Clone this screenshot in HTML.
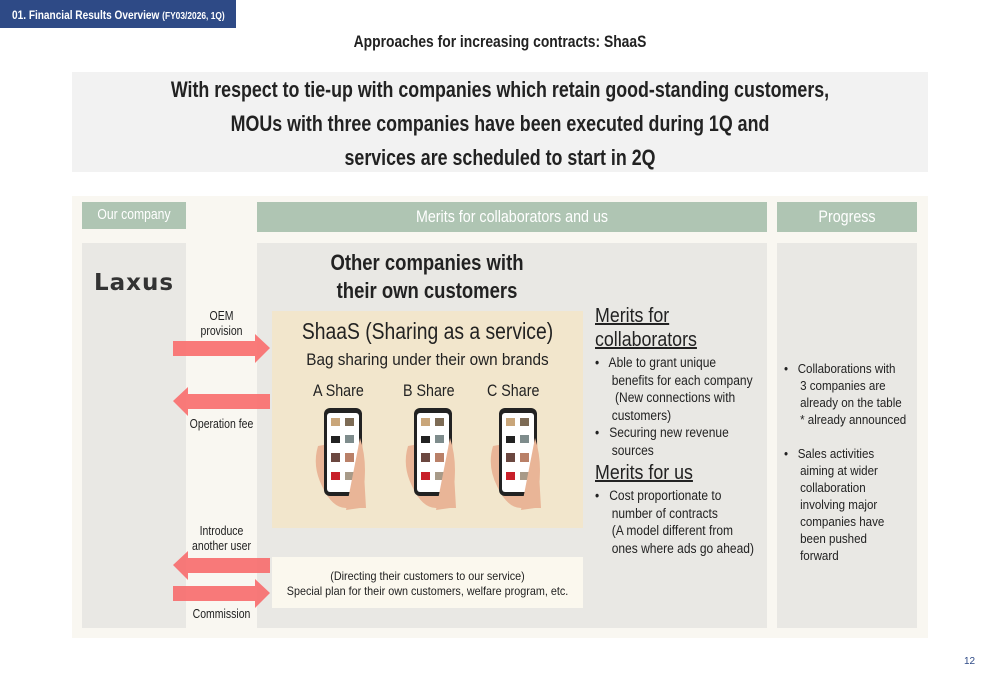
<!DOCTYPE html>
<html><head><meta charset="utf-8"><style>
*{margin:0;padding:0;box-sizing:border-box}
body{width:1000px;height:685px;background:#fff;position:relative;overflow:hidden;font-family:"Liberation Sans",sans-serif;color:#222}
.a{position:absolute;white-space:nowrap}
.c{text-align:center}
.hdr{background:#afc5b3;color:#fff;font-size:17px;text-align:center}
.t{font-size:13.5px;line-height:17.5px}
.nl{transform:scaleX(.84);transform-origin:left top}
.nc{transform:scaleX(.84);transform-origin:center top}
.n9{transform:scaleX(.89);transform-origin:left top}
</style></head><body>
<div class="a" style="left:0;top:0;width:236px;height:28px;background:#2e4a86"></div>
<div class="a nl" style="left:12px;top:0;color:#fff;font-size:12px;font-weight:bold;line-height:30px">01. Financial Results Overview <span style="font-size:10px">(FY03/2026, 1Q)</span></div>
<div class="a c nc" style="left:0;width:1000px;top:33px;font-size:16.5px;font-weight:bold">Approaches for increasing contracts: ShaaS</div>
<div class="a" style="left:72px;top:72px;width:856px;height:100px;background:#f2f2f2"></div>
<div class="a c nc" style="left:72px;top:73px;width:856px;font-size:22px;font-weight:bold;line-height:34px;transform:scaleX(.81)">With respect to tie-up with companies which retain good-standing customers,<br>MOUs with three companies have been executed during 1Q and<br>services are scheduled to start in 2Q</div>

<div class="a" style="left:72px;top:196px;width:856px;height:442px;background:#f9f7f1"></div>
<div class="a hdr" style="left:82px;top:202px;width:104px;height:27px;font-size:14.5px;line-height:27px"><div class="nc">Our company</div></div>
<div class="a hdr" style="left:257px;top:202px;width:510px;height:30px;line-height:30px"><div class="nc">Merits for collaborators and us</div></div>
<div class="a hdr" style="left:777px;top:202px;width:140px;height:30px;line-height:30px"><div class="nc">Progress</div></div>

<div class="a" style="left:82px;top:243px;width:104px;height:385px;background:#e9e8e4"></div>
<div class="a" style="left:257px;top:243px;width:510px;height:385px;background:#e9e8e4"></div>
<div class="a" style="left:777px;top:243px;width:140px;height:385px;background:#e9e8e4"></div>
<div class="a" style="left:94px;top:270px;font-family:'DejaVu Sans',sans-serif;font-size:23px;font-weight:bold;letter-spacing:1px;color:#333">Laxus</div>

<div class="a c nc" style="left:257px;top:249px;width:340px;font-size:22px;font-weight:bold;line-height:28px">Other companies with<br>their own customers</div>

<div class="a" style="left:272px;top:311px;width:311px;height:217px;background:#f2e6cc"></div>
<div class="a c nc" style="left:252px;top:318px;width:351px;font-size:23px">ShaaS (Sharing as a service)</div>
<div class="a c nc" style="left:252px;top:350px;width:351px;font-size:17px;transform:scaleX(.9)">Bag sharing under their own brands</div>
<div class="a nl" style="left:313px;top:381px;font-size:17px">A Share</div>
<div class="a nl" style="left:403px;top:381px;font-size:17px">B Share</div>
<div class="a nl" style="left:487px;top:381px;font-size:17px">C Share</div>

<svg class="a" style="left:0;top:0" width="1000" height="685">
<defs><g id="ph">
<path d="M8 38 q-6 20 4 40 q10 22 24 22 l20 0 l-4-70 z" fill="#e9b597"/>
<rect x="14" y="0" width="38" height="88" rx="6" fill="#222"/>
<rect x="17" y="5" width="32" height="79" rx="3" fill="#fff"/>
<rect x="21" y="10" width="9" height="8" fill="#c9a67a"/><rect x="35" y="10" width="9" height="8" fill="#7d6b55"/>
<rect x="21" y="28" width="9" height="7" fill="#222"/><rect x="35" y="27" width="9" height="8" fill="#7e8c8c"/>
<rect x="21" y="45" width="9" height="9" fill="#6b4740"/><rect x="35" y="45" width="9" height="9" fill="#b98068"/>
<rect x="21" y="64" width="9" height="8" fill="#c8202a"/><rect x="35" y="64" width="9" height="8" fill="#a89a88"/>
<path d="M50 30 q10 30 0 70 l-14 2 z" fill="#e9b597"/>
</g></defs>
<use href="#ph" x="310" y="408"/><use href="#ph" x="400" y="408"/><use href="#ph" x="485" y="408"/>
<g fill="#f86f6f" opacity="0.92">
<polygon points="173,341 255,341 255,334 270,348 255,363 255,356 173,356"/>
<polygon points="270,394 188,394 188,387 173,401 188,416 188,409 270,409"/>
<polygon points="270,558 188,558 188,551 173,565 188,580 188,573 270,573"/>
<polygon points="173,586 255,586 255,579 270,593 255,608 255,601 173,601"/>
</g>
</svg>

<div class="a c nc" style="left:176px;top:309px;width:91px;font-size:12.5px;line-height:15px">OEM<br>provision</div>
<div class="a c nc" style="left:176px;top:417px;width:91px;font-size:12.5px">Operation fee</div>
<div class="a c nc" style="left:176px;top:524px;width:91px;font-size:12.5px;line-height:15px">Introduce<br>another user</div>
<div class="a c nc" style="left:176px;top:607px;width:91px;font-size:12.5px">Commission</div>

<div class="a" style="left:272px;top:557px;width:311px;height:51px;background:#fbf8ee"></div>
<div class="a c nc" style="left:232px;top:569px;width:391px;font-size:12px;line-height:15px;transform:scaleX(.9)">(Directing their customers to our service)<br>Special plan for their own customers, welfare program, etc.</div>

<div class="a n9" style="left:595px;top:304px;font-size:20px;line-height:24px;text-decoration:underline">Merits for<br>collaborators</div>
<div class="a t n9" style="left:595px;top:354px">•&nbsp;&nbsp; Able to grant unique<br>&nbsp;&nbsp;&nbsp;&nbsp; benefits for each company<br>&nbsp;&nbsp;&nbsp;&nbsp;&nbsp;&nbsp;(New connections with<br>&nbsp;&nbsp;&nbsp;&nbsp; customers)<br>•&nbsp;&nbsp; Securing new revenue<br>&nbsp;&nbsp;&nbsp;&nbsp; sources</div>
<div class="a n9" style="left:595px;top:462px;font-size:20px;text-decoration:underline">Merits for us</div>
<div class="a t n9" style="left:595px;top:487px">•&nbsp;&nbsp; Cost proportionate to<br>&nbsp;&nbsp;&nbsp;&nbsp; number of contracts<br>&nbsp;&nbsp;&nbsp;&nbsp; (A model different from<br>&nbsp;&nbsp;&nbsp;&nbsp; ones where ads go ahead)</div>

<div class="a t n9" style="left:784px;top:360px;font-size:13px;line-height:17px">•&nbsp;&nbsp; Collaborations with<br>&nbsp;&nbsp;&nbsp;&nbsp; 3 companies are<br>&nbsp;&nbsp;&nbsp;&nbsp; already on the table<br>&nbsp;&nbsp;&nbsp;&nbsp;&nbsp;* already announced<br><br>•&nbsp;&nbsp; Sales activities<br>&nbsp;&nbsp;&nbsp;&nbsp; aiming at wider<br>&nbsp;&nbsp;&nbsp;&nbsp; collaboration<br>&nbsp;&nbsp;&nbsp;&nbsp; involving major<br>&nbsp;&nbsp;&nbsp;&nbsp; companies have<br>&nbsp;&nbsp;&nbsp;&nbsp; been pushed<br>&nbsp;&nbsp;&nbsp;&nbsp; forward</div>

<div class="a" style="left:964px;top:656px;font-size:10px;color:#2e4a86">12</div>
</body></html>
